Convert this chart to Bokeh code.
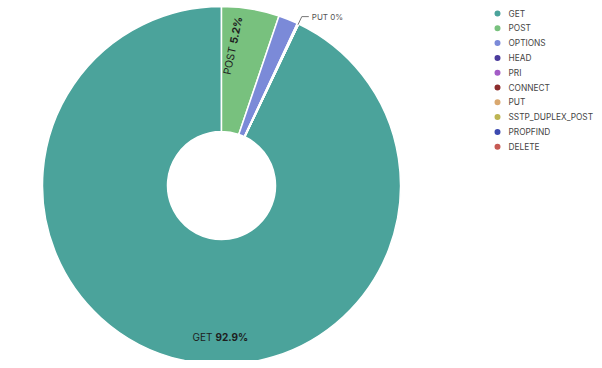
import numpy as np
from bokeh.plotting import figure
from bokeh.models import Range1d, ColumnDataSource
from bokeh.core.properties import value
from bokeh.embed import file_html
from bokeh.resources import INLINE

# ---- data ----
methods = ["GET", "POST", "OPTIONS", "HEAD", "PRI", "CONNECT", "PUT",
           "SSTP_DUPLEX_POST", "PROPFIND", "DELETE"]
shares = [92.9, 5.2, 1.76, 0.05, 0.03, 0.02, 0.01, 0.01, 0.01, 0.01]
colors = ["#4ba39b", "#78c17e", "#7b8ad8", "#4b3b9c", "#a35cc6", "#8c2d2d",
          "#d9a86f", "#bdb553", "#3c4ab0", "#c65a54"]
label_get = ["GET", "92.9%"]
label_post = ["POST", "5.2%"]
label_put = "PUT 0%"

FONT = value("Inter")
W, H = 594, 360
p = figure(width=W, height=H, x_range=Range1d(0, W), y_range=Range1d(368 - H, 368),
           output_backend="svg", toolbar_location=None, min_border=0)
p.axis.visible = False
p.grid.visible = False
p.outline_line_color = None
p.background_fill_color = "white"

cx, cy = 221, 368 - 185
R_out, R_in = 179, 54

frac = np.array(shares) / np.sum(shares)
cum = np.concatenate([[0], np.cumsum(frac)])
a0 = np.pi / 2 + frac[0] * 2 * np.pi  # GET ends at 12 o'clock
starts = a0 - cum[:-1] * 2 * np.pi
ends = a0 - cum[1:] * 2 * np.pi

src = ColumnDataSource(dict(start=starts, end=ends, color=colors, name=methods))
p.annular_wedge(x=cx, y=cy, inner_radius=R_in, outer_radius=R_out,
                start_angle="start", end_angle="end", direction="clock",
                fill_color="color", line_color="white", line_width=1.5, source=src)

# GET label
p.text(x=[cx - 9], y=[cy - 151], text=[label_get[0]], text_font=FONT, text_font_size="10px",
       text_align="right", text_baseline="middle", text_color="#1e1e1e")
p.text(x=[cx - 6], y=[cy - 151], text=[label_get[1]], text_font=FONT, text_font_size="10px",
       text_font_style="bold", text_align="left", text_baseline="middle", text_color="#1e1e1e")

# POST label (rotated along the slice)
mid_post = (starts[1] + ends[1]) / 2
rot = mid_post - np.radians(2.5)
lab_a = mid_post + np.radians(4.6)
lab_r = 141
sx = cx + lab_r * np.cos(lab_a)
sy = cy + lab_r * np.sin(lab_a)
dx, dy = np.cos(rot), np.sin(rot)
p.text(x=[sx - 2 * dx], y=[sy - 2 * dy], text=[label_post[0]], angle=rot, text_font=FONT,
       text_font_size="10.5px", text_align="right", text_baseline="middle", text_color="#1e1e1e")
p.text(x=[sx + 1.5 * dx], y=[sy + 1.5 * dy], text=[label_post[1]], angle=rot, text_font=FONT,
       text_font_size="10.5px", text_font_style="bold", text_align="left", text_baseline="middle",
       text_color="#1e1e1e")

# PUT leader label
put_i = methods.index("PUT")
mid_put = (starts[put_i] + ends[put_i]) / 2
x1, y1 = cx + (R_out - 1) * np.cos(mid_put), cy + (R_out - 1) * np.sin(mid_put)
x2, y2 = cx + (R_out + 8) * np.cos(mid_put), cy + (R_out + 8) * np.sin(mid_put)
p.line(x=[x1, x2, x2 + 7], y=[y1, y2, y2], line_color="#777777", line_width=1)
p.text(x=[x2 + 10], y=[y2], text=[label_put], text_font=FONT, text_font_size="8px",
       text_align="left", text_baseline="middle", text_color="#555555")

# legend
lx, ly0, step = 497, 368 - 13, 14.8
ys = [ly0 - i * step for i in range(len(methods))]
p.scatter(x=[lx] * len(methods), y=ys, size=6, fill_color=colors, line_color=None)
p.text(x=[lx + 11] * len(methods), y=ys, text=methods, text_font=FONT, text_font_size="8.3px",
       text_align="left", text_baseline="middle", text_color="#444444")

open("out.html", "w").write(file_html(p, INLINE))
